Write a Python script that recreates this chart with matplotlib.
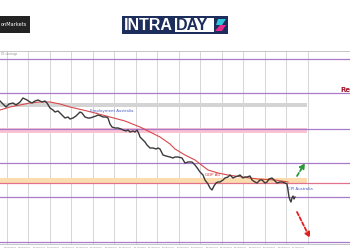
"""Intraday price chart with key levels, MA and event notes."""

import matplotlib
matplotlib.use('Agg')
import matplotlib.pyplot as plt
from matplotlib.patches import Rectangle, Polygon
import numpy as np

# price path (bar index, close)
bar_x = [0, 3, 6, 9, 13, 16, 20, 23, 25, 27, 30, 32, 35, 38, 40, 42, 45, 47, 50, 53,
         55, 58, 60, 63, 65, 68, 70, 73, 76, 78, 80, 82, 85, 88, 90, 93, 96, 98, 101, 103,
         106, 108, 110, 112, 115, 118, 121, 123, 126, 128, 130, 133, 135, 137, 139, 140, 143, 145, 147, 150,
         153, 156, 158, 160, 163, 166, 170, 173, 175, 178, 182, 185, 188, 192, 195, 198, 200, 203, 205, 208,
         210, 212, 214, 216, 218, 220, 223, 225, 228, 230, 233, 235, 238, 240, 243, 245, 247, 250, 252, 255,
         257, 260, 262, 265, 267, 269, 272, 275, 277, 280, 282, 285, 287, 288, 289, 290, 291, 292, 293, 294, 295]
close = [0.6949, 0.6946, 0.6943, 0.6946, 0.6947, 0.6945, 0.6948, 0.6952, 0.6951, 0.6950,
         0.6948, 0.6947, 0.6949, 0.6950, 0.6949, 0.6948, 0.6949, 0.6947, 0.6942, 0.6940,
         0.6938, 0.6939, 0.6937, 0.6934, 0.6932, 0.6933, 0.6931, 0.6932, 0.6934, 0.6936,
         0.6938, 0.6937, 0.6933, 0.6932, 0.6932, 0.6933, 0.6934, 0.6935, 0.6934, 0.6933,
         0.6933, 0.6932, 0.6926, 0.6923, 0.6922, 0.6922, 0.6921, 0.6920, 0.6919, 0.6920,
         0.6918, 0.6919, 0.6918, 0.6920, 0.6916, 0.6913, 0.6910, 0.6908, 0.6905, 0.6902,
         0.6902, 0.6901, 0.6902, 0.6901, 0.6895, 0.6894, 0.6893, 0.6892, 0.6893, 0.6893,
         0.6892, 0.6887, 0.6888, 0.6888, 0.6885, 0.6881, 0.6878, 0.6875, 0.6870, 0.6866,
         0.6862, 0.6860, 0.6864, 0.6867, 0.6868, 0.6868, 0.6870, 0.6872, 0.6873, 0.6875,
         0.6872, 0.6873, 0.6874, 0.6875, 0.6872, 0.6873, 0.6873, 0.6874, 0.6870, 0.6868,
         0.6867, 0.6870, 0.6870, 0.6867, 0.6868, 0.6871, 0.6872, 0.6869, 0.6867, 0.6868,
         0.6868, 0.6867, 0.6866, 0.6860, 0.6853, 0.6850, 0.6848, 0.6852, 0.6854, 0.6851, 0.6853]

# moving average
ma_x = [0, 10, 20, 30, 40, 50, 60, 70, 83, 95, 110, 125, 140, 150, 160, 170, 175,
        185, 195, 208, 218, 228, 242, 258, 275, 288]
ma = [0.6940, 0.6943, 0.6945, 0.6947, 0.6948, 0.6948, 0.6946, 0.6943, 0.6940, 0.6937,
      0.6933, 0.6929, 0.6923, 0.6918, 0.6913, 0.6906, 0.6901, 0.6895, 0.6890, 0.6880,
      0.6877, 0.6875, 0.6873, 0.6871, 0.6870, 0.6868]

# horizontal levels
purple_levels = [0.6991, 0.6957, 0.6921, 0.6887, 0.6853, 0.6808]
red_level = 0.6867
zones = [(0.6943, 0.6947, '#d4d4d4'),
         (0.6917, 0.6922, '#f9c3d3'),
         (0.6867, 0.6872, '#fbdcae')]
zone_end = 307

# event notes
notes = [("Employment Australia", 90, 0.6939, '#4a5ac8'),
         ("GDP AU", 205, 0.68755, '#d03030'),
         ("CPI Australia", 288, 0.68605, '#4a5ac8')]

# scenario arrows (start bar, start price, end bar, end price)
bull_arrow = (297, 0.6874, 305, 0.6887)
bear_arrow = (297, 0.6838, 310, 0.6812)

date_labels = ["18 Jul 08:00", "18 Jul 16:00", "19 Jul 00:00", "19 Jul 08:00", "19 Jul 16:00",
               "20 Jul 00:00", "20 Jul 08:00", "20 Jul 16:00", "21 Jul 00:00", "21 Jul 08:00",
               "21 Jul 16:00", "24 Jul 00:00", "24 Jul 08:00", "24 Jul 16:00", "25 Jul 00:00",
               "25 Jul 08:00", "25 Jul 16:00", "26 Jul 00:00", "26 Jul 08:00", "26 Jul 16:00",
               "27 Jul 00:00"]

fig = plt.figure(figsize=(3.5, 2.5), dpi=100)
fig.patch.set_facecolor('white')

ax = fig.add_axes([0, 6 / 250, 1, 193 / 250])
ax.set_xlim(0, 350)
ax.set_ylim(0.6806, 0.6999)

# grid
for gx in np.arange(6.5, 310, 21.5):
    ax.axvline(gx, color='#cfcfcf', lw=0.6, zorder=0)

for lo, hi, c in zones:
    ax.add_patch(Rectangle((0, lo), zone_end, hi - lo, color=c, lw=0, zorder=1))

for lv in purple_levels:
    ax.axhline(lv, color='#a77bc9', lw=0.9, zorder=2)
ax.axhline(red_level, color='#e0728c', lw=0.9, zorder=2)

ax.plot(ma_x, ma, color='#d9474a', lw=0.8, zorder=3)
ax.plot(bar_x, close, color='#3a3a3a', lw=1.0, zorder=4)

for txt, x, y, c in notes:
    ax.text(x, y, txt, color=c, fontsize=2.8, va='center', ha='left', zorder=5)

ax.text(340, 0.6960, "Resistance", color='#a3192e', fontsize=5, fontweight='bold',
        va='center', ha='left', clip_on=False)
ax.text(1, 0.69975, "D1 chart ago", color='#8a8a8a', fontsize=1.8, va='top', ha='left')

for (x0, y0, x1, y1), c in [(bull_arrow, '#2a9a3a'), (bear_arrow, '#e02020')]:
    ax.annotate('', xy=(x1, y1), xytext=(x0, y0),
                arrowprops=dict(arrowstyle='-|>,head_width=0.15,head_length=0.3',
                                color=c, lw=1.3, linestyle=(0, (2, 1.2)),
                                shrinkA=0, shrinkB=0))

# date labels under the chart
lab_x = 10 + 14.4 * np.arange(len(date_labels))
for x, lab in zip(lab_x, date_labels):
    ax.text(x, -0.016, lab, transform=ax.get_xaxis_transform(), fontsize=1.4,
            color='#666666', ha='center', va='center', clip_on=False)

ax.set_xticks([])
ax.set_yticks([])
for side in ['left', 'right']:
    ax.spines[side].set_visible(False)
for side in ['top', 'bottom']:
    ax.spines[side].set_color('#bdbdbd')
    ax.spines[side].set_linewidth(0.6)

# logos overlay in pixel space
lg = fig.add_axes([0, 0, 1, 1], zorder=-1)
lg.set_xlim(0, 350)
lg.set_ylim(250, 0)
lg.axis('off')

lg.add_patch(Rectangle((0, 16), 30, 17, color='#232323', lw=0))
lg.text(1, 24.5, "onMarkets", color='white', fontsize=3.6, va='center', ha='left')

lg.add_patch(Rectangle((122, 16), 106, 17.5, color='#1d2d5c', lw=0))
lg.add_patch(Rectangle((174.5, 17.5), 39, 14.5, color='white', lw=0))
lg.text(124, 25, "INTRA", color='white', fontsize=11.5, fontweight='bold',
        family='Liberation Sans', va='center', ha='left')
lg.text(176, 25, "DAY", color='#1d2d5c', fontsize=11.5, fontweight='bold',
        family='Liberation Sans', va='center', ha='left')
lg.add_patch(Polygon([(218, 19), (226, 19), (222, 25), (216, 25)], color='#2ec4dc', lw=0))
lg.add_patch(Polygon([(220, 25), (226, 25), (222, 31), (215, 31)], color='#e8288a', lw=0))

plt.savefig('out.png', dpi=100)
plt.close()
